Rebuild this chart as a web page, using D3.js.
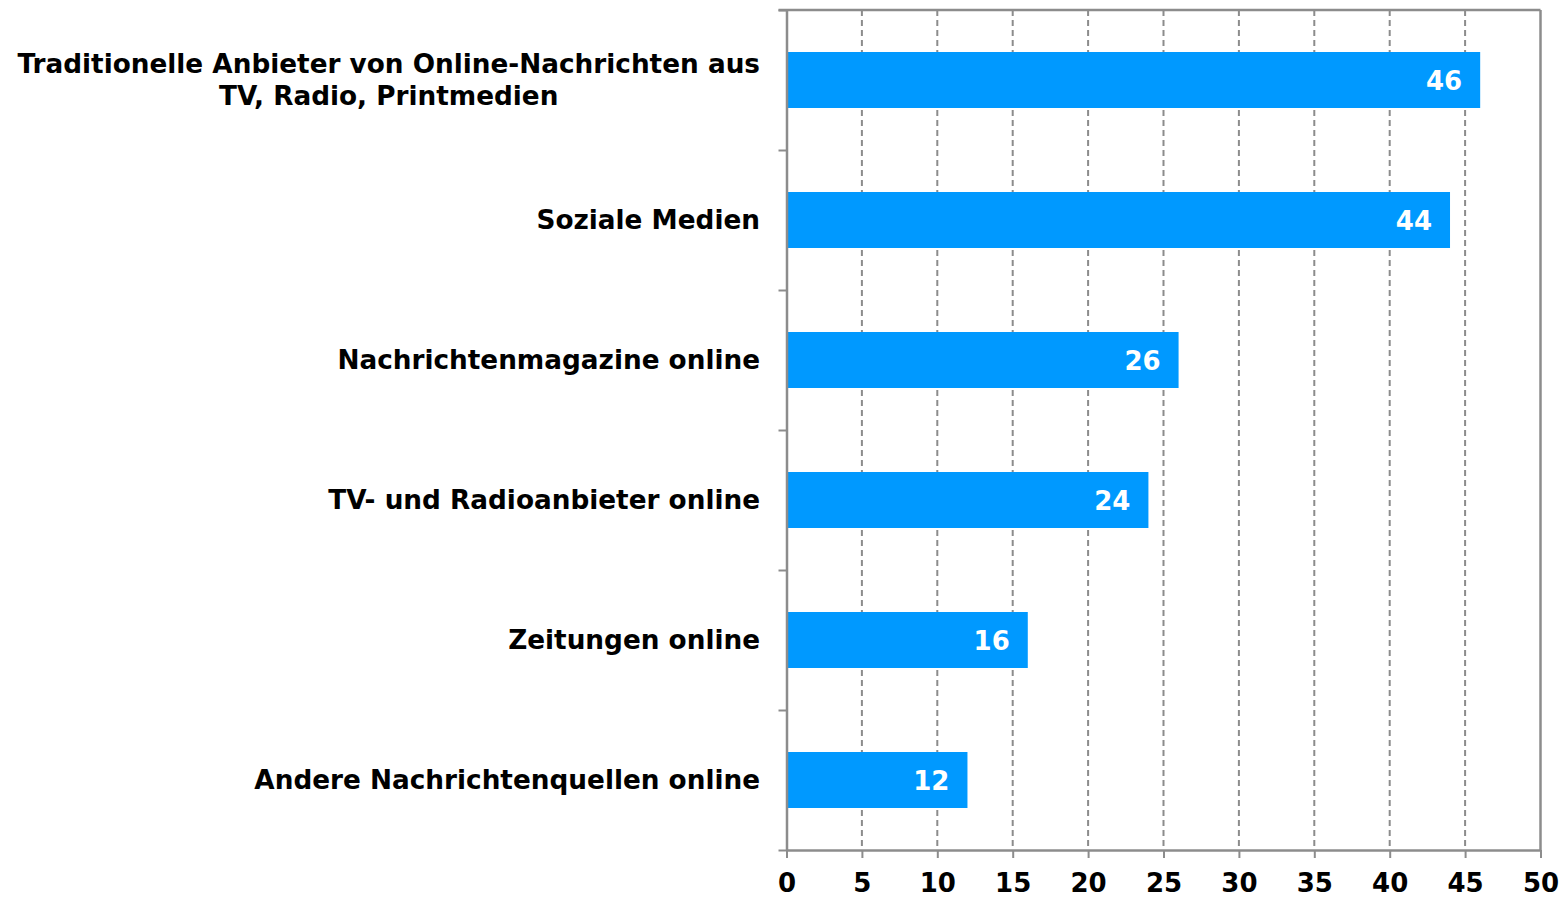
<!DOCTYPE html>
<html><head><meta charset="utf-8">
<script src="https://cdn.jsdelivr.net/npm/d3@7"></script>
<style>body{margin:0;background:#fff}svg{display:block}</style>
</head><body>
<svg id="c" width="1562" height="898"></svg>
<script>
const categories = [
  ["Traditionelle Anbieter von Online-Nachrichten aus", "TV, Radio, Printmedien"],
  ["Soziale Medien"],
  ["Nachrichtenmagazine online"],
  ["TV- und Radioanbieter online"],
  ["Zeitungen online"],
  ["Andere Nachrichtenquellen online"]
];
const values = [46, 44, 26, 24, 16, 12];
const xTicks = [0, 5, 10, 15, 20, 25, 30, 35, 40, 45, 50];

const svg = d3.select("#c");
const m = {left: 786.5, right: 1540.5, top: 10, bottom: 850};
const font = "'DejaVu Sans', Verdana, sans-serif";
const grey = "#8c8c8c";

const x = d3.scaleLinear().domain([0, 50]).range([m.left, m.right]);
const y = d3.scaleBand().domain(d3.range(categories.length)).range([m.top, m.bottom]).paddingInner(0.6).paddingOuter(0.3);
const yb = d3.scaleBand().domain(d3.range(categories.length)).range([m.top, m.bottom]);

// gridlines
svg.append("g").selectAll("line").data(xTicks.slice(1, -1)).join("line")
  .attr("x1", d => x(d)).attr("x2", d => x(d))
  .attr("y1", m.top).attr("y2", m.bottom)
  .attr("stroke", grey).attr("stroke-width", 2).attr("stroke-dasharray", "6,4");

// bars
svg.append("g").selectAll("rect").data(values).join("rect")
  .attr("x", x(0)).attr("y", (d, i) => y(i))
  .attr("width", d => x(d) - x(0)).attr("height", y.bandwidth())
  .attr("fill", "#0099ff");

// border top/right
svg.append("line").attr("x1", m.left - 8).attr("x2", m.right).attr("y1", m.top).attr("y2", m.top).attr("stroke", grey).attr("stroke-width", 2.5);
svg.append("line").attr("x1", m.right).attr("x2", m.right).attr("y1", m.top).attr("y2", m.bottom).attr("stroke", grey).attr("stroke-width", 2.5);

// x axis
const xAxis = svg.append("g").attr("transform", `translate(0,${m.bottom})`)
  .call(d3.axisBottom(x).tickValues(xTicks).tickSize(8).tickPadding(16).tickSizeOuter(0));
xAxis.select(".domain").attr("stroke", grey).attr("stroke-width", 2.5);
xAxis.selectAll(".tick line").attr("stroke", grey).attr("stroke-width", 2);
xAxis.selectAll("text").attr("font-family", font).attr("font-weight", "bold").attr("font-size", 26).attr("fill", "#000");

// y axis
const yAxis = svg.append("g").attr("transform", `translate(${m.left},0)`)
  .call(d3.axisLeft(d3.scaleLinear().domain([0, categories.length]).range([m.top, m.bottom]))
    .tickValues(d3.range(categories.length + 1)).tickSize(8).tickFormat("").tickSizeOuter(0));
yAxis.select(".domain").attr("stroke", grey).attr("stroke-width", 2.5);
yAxis.selectAll(".tick line").attr("stroke", grey).attr("stroke-width", 2);

// category labels
const lab = svg.append("g").selectAll("text").data(categories).join("text")
  .attr("text-anchor", "middle").attr("font-family", font).attr("font-weight", "bold").attr("font-size", 26.3).attr("fill", "#000");
lab.each(function(lines, i) {
  const t = d3.select(this);
  const cy = yb(i) + yb.bandwidth() / 2;
  const lh = 32;
  lines.forEach((l, k) => {
    t.append("tspan").attr("y", cy + (k - (lines.length - 1) / 2) * lh).attr("dy", "0.35em").text(l);
  });
});
lab.each(function() {
  const t = d3.select(this);
  const spans = t.selectAll("tspan").nodes();
  const w = d3.max(spans, s => s.getComputedTextLength());
  spans.forEach(s => d3.select(s).attr("x", 760 - w / 2));
});

// value labels
svg.append("g").selectAll("text").data(values).join("text")
  .attr("x", d => x(d) - 18).attr("y", (d, i) => y(i) + y.bandwidth() / 2).attr("dy", "0.38em")
  .attr("text-anchor", "end").attr("font-family", font).attr("font-weight", "bold").attr("font-size", 26).attr("fill", "#fff")
  .text(d => d);
</script>
</body></html>
